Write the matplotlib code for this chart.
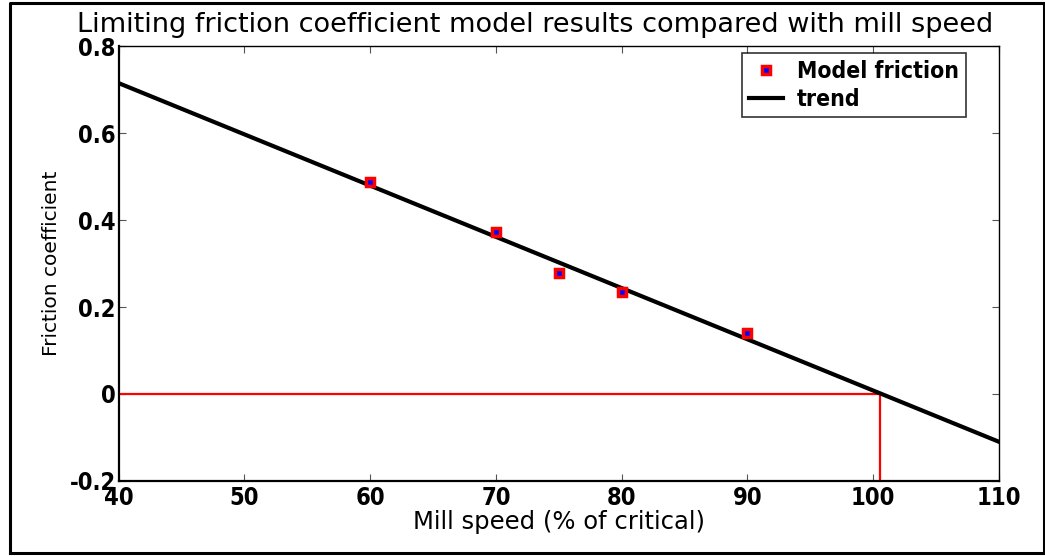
import matplotlib
matplotlib.use("Agg")
import matplotlib.pyplot as plt
from matplotlib.lines import Line2D
from matplotlib import font_manager as fm

# Data
mill_speed = [60, 70, 75, 80, 90]
friction = [0.487, 0.372, 0.279, 0.235, 0.14]

trend_x = [40, 110]
trend_y = [0.715, -0.11]

# red guide lines: zero line and crossing speed
zero_x = [40, 100.5]
zero_y = [0, 0]
cross_x = [100.5, 100.5]
cross_y = [0, -0.2]

xticks = [40, 50, 60, 70, 80, 90, 100, 110]
yticks = [-0.2, 0, 0.2, 0.4, 0.6, 0.8]
ytick_labels = ["-0.2", "0", "0.2", "0.4", "0.6", "0.8"]

# bold condensed look for ticks / legend if a condensed face is around
names = {f.name for f in fm.fontManager.ttflist}
if "Liberation Sans Narrow" in names:
    bold_font = dict(family="Liberation Sans Narrow", weight="bold", stretch="normal")
    tick_size = 18
else:
    bold_font = dict(family="DejaVu Sans", weight="bold", stretch="condensed")
    tick_size = 17

fig = plt.figure(figsize=(10.45, 5.56), dpi=100)
ax = fig.add_axes([0.1135, 0.135, 0.8425, 0.782])

ax.plot(zero_x, zero_y, color="red", lw=1.6, zorder=2)
ax.plot(cross_x, cross_y, color="red", lw=1.6, zorder=2)
ax.plot(trend_x, trend_y, color="black", lw=3, zorder=3, label="trend")
ax.plot(mill_speed, friction, ls="none", marker="s", ms=5.5, mew=2.5,
        mfc="blue", mec="red", zorder=4, label="Model friction")

ax.set_xlim(40, 110)
ax.set_ylim(-0.2, 0.8)
ax.set_xticks(xticks)
ax.set_yticks(yticks)
ax.set_yticklabels(ytick_labels)
ax.tick_params(direction="in", length=5, width=0.8, color="#555555",
               top=True, right=True, pad=2)
ax.tick_params(axis="x", pad=4)
for lab in ax.get_xticklabels() + ax.get_yticklabels():
    lab.set_family(bold_font["family"])
    lab.set_fontweight(bold_font["weight"])
    lab.set_fontstretch(bold_font["stretch"])
    lab.set_fontsize(tick_size)
ax.spines["left"].set_linewidth(1.6)
ax.spines["bottom"].set_linewidth(1.6)
ax.spines["top"].set_linewidth(1.0)
ax.spines["right"].set_linewidth(1.0)

# title sits a bit left of the axes centre in the original
ax.set_title("Limiting friction coefficient model results compared with mill speed",
             fontsize=19.5, pad=10, x=0.473)
ax.set_xlabel("Mill speed (% of critical)", fontsize=17.5, labelpad=0)
ax.set_ylabel("Friction coefficient", fontsize=14.5)
ax.yaxis.set_label_coords(-0.065, 0.5)

handles, labels = ax.get_legend_handles_labels()
leg = ax.legend(handles[::-1], labels[::-1], loc="upper right",
                bbox_to_anchor=(0.962, 0.984), frameon=True, fancybox=False,
                edgecolor="black", borderpad=0.3, handlelength=1.5,
                handletextpad=0.6,
                prop={"family": bold_font["family"], "weight": "bold",
                      "stretch": bold_font["stretch"], "size": 16.5},
                labelspacing=0.2, borderaxespad=0)
leg.get_frame().set_linewidth(1.2)

# black frame round the whole figure (right side sits on the image edge)
frame_x = [0.0095, 0.0095, 0.9995, 0.9995, 0.0095]
frame_y = [0.006, 0.994, 0.994, 0.006, 0.006]
fig.add_artist(Line2D(frame_x, frame_y, transform=fig.transFigure,
                      color="black", lw=2.2))

fig.savefig("out.png", dpi=100)
